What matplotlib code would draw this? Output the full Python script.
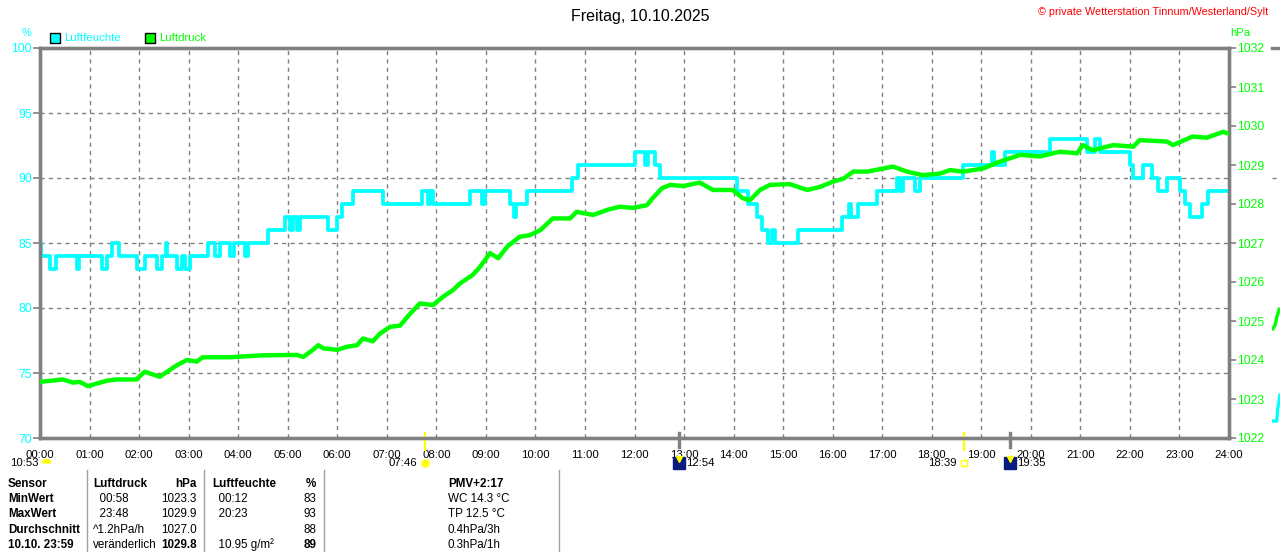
import numpy as np
import matplotlib
matplotlib.use("Agg")
import matplotlib.pyplot as plt
from matplotlib.lines import Line2D
from matplotlib.patches import Rectangle
from matplotlib.transforms import blended_transform_factory

plt.rcParams['font.family'] = ['Liberation Sans', 'DejaVu Sans']

# --- data ------------------------------------------------------------
# humidity (%) change points, step-wise
hum_times = ["00:00", "00:01", "00:12", "00:19", "00:45", "00:47", "01:15", "01:21",
             "01:27", "01:36", "01:57", "02:07", "02:22", "02:28", "02:33", "02:34",
             "02:46", "02:52", "02:56", "03:02", "03:23", "03:32", "03:38", "03:50",
             "03:55", "04:08", "04:12", "04:36", "04:57", "05:03", "05:06", "05:11",
             "05:15", "05:49", "06:00", "06:06", "06:19", "06:55", "07:43", "07:50",
             "07:52", "07:56", "08:41", "08:55", "08:59", "09:29", "09:34", "09:36",
             "09:50", "10:44", "10:52", "12:01", "12:13", "12:16", "12:25", "12:31",
             "14:04", "14:17", "14:28", "14:34", "14:42", "14:47", "14:50", "15:18",
             "16:11", "16:20", "16:22", "16:31", "16:54", "17:18", "17:22", "17:25",
             "17:40", "17:46", "18:38", "19:13", "19:15", "19:29", "20:23", "21:08",
             "21:18", "21:24", "22:00", "22:04", "22:16", "22:27", "22:34", "22:45",
             "23:01", "23:07", "23:13", "23:27", "23:35", "24:00"]
hum_values = [85, 84, 83, 84, 83, 84, 83, 84,
              85, 84, 83, 84, 83, 84, 85, 84,
              83, 84, 83, 84, 85, 84, 85, 84,
              85, 84, 85, 86, 87, 86, 87, 86,
              87, 86, 87, 88, 89, 88, 89, 88,
              89, 88, 89, 88, 89, 88, 87, 88,
              89, 90, 91, 92, 91, 92, 91, 90,
              89, 88, 87, 86, 85, 86, 85, 86,
              87, 88, 87, 88, 89, 90, 89, 90,
              89, 90, 91, 92, 91, 92, 93, 92,
              93, 92, 91, 90, 91, 90, 89, 90,
              89, 88, 87, 88, 89, 89]

# air pressure (hPa)
press_times = ["00:00", "00:28", "00:40", "00:48", "00:58", "01:21", "01:33", "01:57",
               "02:01", "02:07", "02:25", "02:46", "02:58", "03:10", "03:17", "03:50",
               "04:30", "05:11", "05:19", "05:31", "05:37", "05:43", "06:00", "06:12",
               "06:24", "06:31", "06:43", "06:52", "07:04", "07:16", "07:28", "07:40",
               "07:56", "08:08", "08:20", "08:29", "08:44", "08:53", "09:05", "09:15",
               "09:26", "09:41", "09:53", "10:06", "10:21", "10:42", "10:50", "11:10",
               "11:27", "11:42", "11:58", "12:15", "12:22", "12:33", "12:43", "12:59",
               "13:19", "13:35", "13:59", "14:11", "14:20", "14:32", "14:44", "15:08",
               "15:29", "15:45", "16:00", "16:13", "16:25", "16:42", "17:13", "17:30",
               "17:49", "18:10", "18:22", "18:38", "19:02", "19:23", "19:47", "20:11",
               "20:35", "20:56", "21:03", "21:15", "21:40", "22:04", "22:12", "22:45",
               "22:52", "23:16", "23:33", "23:53", "24:00"]
press_values = [1023.44, 1023.50, 1023.42, 1023.44, 1023.33, 1023.47, 1023.50, 1023.50,
                1023.59, 1023.70, 1023.57, 1023.87, 1024.00, 1023.96, 1024.07, 1024.07,
                1024.12, 1024.13, 1024.08, 1024.27, 1024.38, 1024.30, 1024.26, 1024.34,
                1024.38, 1024.55, 1024.48, 1024.68, 1024.85, 1024.88, 1025.18, 1025.45,
                1025.41, 1025.62, 1025.79, 1025.97, 1026.18, 1026.39, 1026.74, 1026.61,
                1026.91, 1027.16, 1027.20, 1027.33, 1027.63, 1027.63, 1027.80, 1027.72,
                1027.85, 1027.93, 1027.90, 1027.97, 1028.15, 1028.40, 1028.49, 1028.46,
                1028.55, 1028.36, 1028.36, 1028.15, 1028.10, 1028.36, 1028.49, 1028.51,
                1028.36, 1028.44, 1028.57, 1028.65, 1028.83, 1028.83, 1028.96, 1028.83,
                1028.74, 1028.78, 1028.87, 1028.83, 1028.91, 1029.09, 1029.26, 1029.22,
                1029.34, 1029.30, 1029.51, 1029.38, 1029.51, 1029.47, 1029.64, 1029.60,
                1029.51, 1029.73, 1029.70, 1029.85, 1029.80]

hour_labels = ["%02d:00" % h for h in range(25)]
hum_ticks = [70, 75, 80, 85, 90, 95, 100]
press_ticks = list(range(1022, 1033))

sun_events = ["07:46", "18:39"]          # sunrise / sunset
moon_events = ["12:54", "19:35"]         # moonrise / moonset
moon_phase_label = "10:53"

table_rows = [
    ["Sensor", "Luftdruck", "hPa", "Luftfeuchte", "%", "PMV+2:17"],
    ["MinWert", "  00:58", "1023.3", "  00:12", "83", "WC 14.3 °C"],
    ["MaxWert", "  23:48", "1029.9", "  20:23", "93", "TP 12.5 °C"],
    ["Durchschnitt", "^1.2hPa/h", "1027.0", "", "88", "0.4hPa/3h"],
    ["10.10. 23:59", "veränderlich", "1029.8", "  10.95 g/m²", "89", "0.3hPa/1h"],
]

# tiny piece of the neighbouring chart cut off at the right edge
next_hum = [71.3, 71.3, 72.2, 73.3]
next_press = [1024.8, 1024.9, 1025.1, 1025.3]


def to_h(t):
    hh, mm = t.split(":")
    return int(hh) + int(mm) / 60.0


CYAN = "#00ffff"
GREEN = "#00ff00"
GRAY = "#808080"

W, H = 1280, 552
fig = plt.figure(figsize=(W / 100, H / 100), dpi=100)


def fx(x):
    return x / W


def fy(y):
    return 1 - y / H


ax = fig.add_axes([fx(40), fy(438), fx(1229) - fx(40), fy(48) - fy(438)])
ax2 = ax.twinx()

ax.set_xlim(0, 24)
ax.set_ylim(70, 100)
ax2.set_ylim(1022, 1032)

# grid
for h in range(1, 24):
    ax.axvline(h, color=GRAY, lw=1, ls=(0, (3, 3)), zorder=0)
for v in hum_ticks[1:-1]:
    ax.axhline(v, color=GRAY, lw=1, ls=(0, (3, 3)), zorder=0)

hx = [to_h(t) for t in hum_times]
ax.plot(hx, hum_values, color=CYAN, lw=2.7, drawstyle="steps-post", zorder=3)
px = [to_h(t) for t in press_times]
ax2.plot(px, press_values, color=GREEN, lw=3.2, zorder=4)

ax.set_zorder(ax2.get_zorder() - 1)
ax2.patch.set_visible(False)

for a in (ax, ax2):
    for s in a.spines.values():
        s.set_color(GRAY)
        s.set_linewidth(2.4)

ax.set_xticks(range(25))
ax.set_xticklabels(hour_labels, fontsize=8.2)
ax.tick_params(axis="x", length=0, pad=9)
ax.set_yticks(hum_ticks)
ax.set_yticklabels([str(v) for v in hum_ticks], color=CYAN, fontsize=8.7)
ax.tick_params(axis="y", length=5, width=1.2, color=GRAY, pad=1)
ax2.set_yticks(press_ticks)
ax2.set_yticklabels([str(v) for v in press_ticks], color=GREEN, fontsize=8.7)
ax2.tick_params(axis="y", length=5, width=1.2, color=GRAY, pad=1)

# sun / moon markers under the axis
tr = blended_transform_factory(ax.transData, ax.transAxes)
for t in sun_events:
    ax.plot([to_h(t)] * 2, [0.013, -0.031], color="#ffff00", lw=1.6,
            transform=tr, clip_on=False, zorder=6)
for t in moon_events:
    ax.plot([to_h(t)] * 2, [0.013, -0.022], color=GRAY, lw=2.4,
            transform=tr, clip_on=False, zorder=6)

yrow = -0.064
# moon phase at the start
ax.plot([0.12], [yrow], marker="o", ms=7, color="#ffff00", fillstyle="top",
        mec="none", transform=tr, clip_on=False)
ax.text(-0.03, yrow, moon_phase_label, transform=tr, fontsize=8.2,
        ha="right", va="center")
# sunrise
ax.plot([to_h(sun_events[0])], [yrow], marker="o", ms=6, color="#ffff00",
        mec="#ffff80", transform=tr, clip_on=False)
ax.text(to_h(sun_events[0]) - 0.15, yrow, sun_events[0], transform=tr,
        fontsize=8.2, ha="right", va="center")
# sunset
ax.plot([to_h(sun_events[1])], [yrow], marker="s", ms=5, color="white",
        mec="#ffff00", mew=1, transform=tr, clip_on=False)
ax.text(to_h(sun_events[1]) - 0.15, yrow, sun_events[1], transform=tr,
        fontsize=8.2, ha="right", va="center")
# moonrise / moonset
for t in moon_events:
    ax.plot([to_h(t)], [yrow], marker="s", ms=8, color="#0a1a80",
            transform=tr, clip_on=False)
    ax.plot([to_h(t)], [yrow + 0.01], marker="v", ms=4, color="#ffff00",
            transform=tr, clip_on=False)
    ax.text(to_h(t) + 0.14, yrow, t, transform=tr, fontsize=8.2,
            ha="left", va="center")

# header texts
fig.text(fx(640), fy(16), "Freitag, 10.10.2025", fontsize=11.5,
         ha="center", va="center")
fig.text(fx(1268), fy(12), "© private Wetterstation Tinnum/Westerland/Sylt",
         fontsize=7.8, color="#ff0000", ha="right", va="center")
fig.text(fx(27), fy(33), "%", fontsize=8, color=CYAN, ha="center", va="center")
fig.text(fx(1240), fy(33), "hPa", fontsize=8.2, color=GREEN, ha="center",
         va="center")

# legend
fig.add_artist(Rectangle((fx(50), fy(43)), fx(10), fy(33) - fy(43),
                         facecolor=CYAN, edgecolor="black", lw=1))
fig.text(fx(64), fy(38), "Luftfeuchte", fontsize=8.2, color=CYAN, va="center")
fig.add_artist(Rectangle((fx(145), fy(43)), fx(10), fy(33) - fy(43),
                         facecolor=GREEN, edgecolor="black", lw=1))
fig.text(fx(159), fy(38), "Luftdruck", fontsize=8.2, color=GREEN, va="center")

# table
for xs in (87, 204, 324, 559):
    fig.add_artist(Line2D([fx(xs)] * 2, [fy(470), fy(552)], color="#a0a0a0", lw=1))

col_x = [8, 93, 197, 212, 316, 448]
col_ha = ["left", "left", "right", "left", "right", "left"]
for r, row in enumerate(table_rows):
    y = 484 + r * 15.2
    for c, txt in enumerate(row):
        bold = r == 0 or c == 0 or (r == 4 and c in (2, 4))
        fig.text(fx(col_x[c]), fy(y), txt, fontsize=8.4, ha=col_ha[c], va="center",
                 fontweight="bold" if bold else "normal")

# cut-off neighbour chart at the right edge
axn = fig.add_axes([fx(1272), fy(438), fx(8), fy(48) - fy(438)])
axn.set_xlim(0, 1)
axn.set_ylim(70, 100)
axn.axis("off")
axn.plot([0, 1], [100, 100], color=GRAY, lw=2.4, clip_on=False)
axn.plot([0, 1], [90, 90], color=GRAY, lw=1, ls=(0, (3, 3)))
axn.plot([0, 0.6, 0.7, 1], next_hum, color=CYAN, lw=2.4)
axn2 = axn.twinx()
axn2.set_ylim(1022, 1032)
axn2.axis("off")
axn2.plot([0.1, 0.4, 0.6, 0.9], next_press, color=GREEN, lw=2.4)

fig.savefig("out.png", dpi=100)
